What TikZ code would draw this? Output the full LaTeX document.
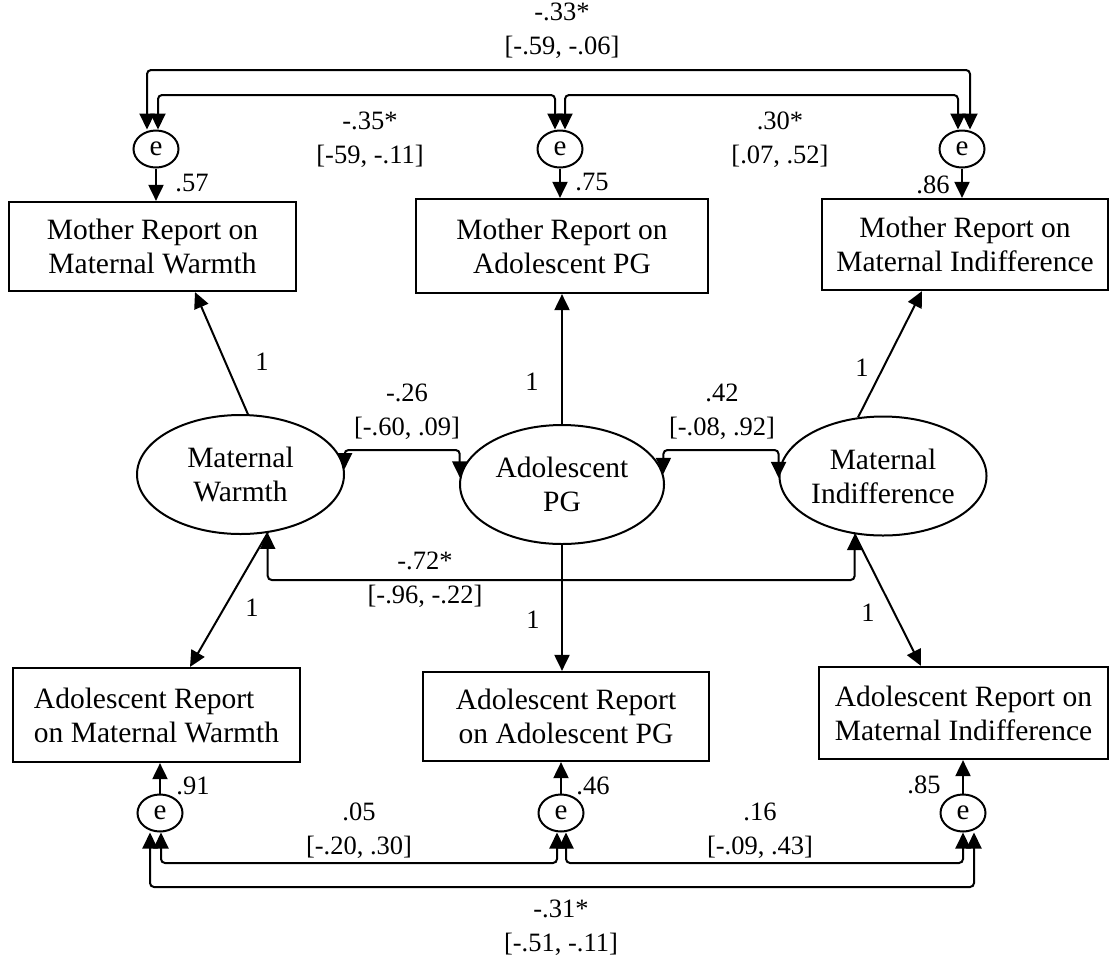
\documentclass[tikz,border=0pt]{standalone}
\usepackage{fontspec}
\setmainfont{Liberation Serif}
\usetikzlibrary{arrows.meta,shapes.geometric}

\newcommand\boxfont{\fontsize{29.5}{34}\selectfont}
\newcommand\labfont{\fontsize{26.5}{34}\selectfont}

\begin{document}
\begin{tikzpicture}[x=1pt,y=-1pt,
  obs/.style={draw,line width=2.2pt,inner sep=0pt,align=center,font=\boxfont},
  lat/.style={ellipse,draw,line width=2pt,inner sep=0pt,minimum width=207pt,
              minimum height=119pt,align=center,font=\boxfont},
  err/.style={ellipse,draw,line width=2pt,inner sep=0pt,minimum width=45pt,
              minimum height=37pt,font=\fontsize{29}{30}\selectfont},
  lab/.style={inner sep=0pt,align=center,font=\labfont},
  arr/.style={-{Triangle[length=16pt,width=15pt]},line width=2pt},
  cov/.style={{Triangle[length=16pt,width=15pt]}-{Triangle[length=16pt,width=15pt]},
              line width=2pt,rounded corners=4pt}]

\useasboundingbox (0,0) rectangle (1118,959);

% observed indicators
\node[obs,minimum width=287pt,minimum height=89pt] (T1) at (152.5,246.5) {Mother Report on\\Maternal Warmth};
\node[obs,minimum width=292pt,minimum height=94pt] (T2) at (562,246) {Mother Report on\\Adolescent PG};
\node[obs,minimum width=286pt,minimum height=91pt] (T3) at (965,244.5) {Mother Report on\\Maternal Indifference};
\node[obs,minimum width=287pt,minimum height=94pt,align=left] (B1) at (156.5,715) {Adolescent Report\\on Maternal Warmth};
\node[obs,minimum width=286pt,minimum height=89pt] (B2) at (566,716.5) {Adolescent Report\\on Adolescent PG};
\node[obs,minimum width=289pt,minimum height=92pt,align=left] (B3) at (963.5,713) {Adolescent Report on\\Maternal Indifference};

% latent factors
\node[lat] (MW) at (240.5,474.5) {Maternal\\Warmth};
\node[lat,minimum width=204pt] (APG) at (562,484.5) {Adolescent\\PG};
\node[lat] (MI) at (883,476) {Maternal\\Indifference};

% residuals
\node[err] (eT1) at (156,149) {e};
\node[err] (eT2) at (560,149) {e};
\node[err] (eT3) at (962,149) {e};
\node[err] (eB1) at (160,813) {e};
\node[err] (eB2) at (561,813) {e};
\node[err] (eB3) at (963,813) {e};

% residual paths
\draw[arr] (eT1) -- (eT1 |- T1.north);
\draw[arr] (eT2) -- (eT2 |- T2.north);
\draw[arr] (eT3) -- (eT3 |- T3.north);
\draw[arr] (eB1) -- (eB1 |- B1.south);
\draw[arr] (eB2) -- (eB2 |- B2.south);
\draw[arr] (eB3) -- (eB3 |- B3.south);
\node[lab] (r57) at (192,183) {.57};
\node[lab] (r75) at (592,182) {.75};
\node[lab] (r86) at (933,185) {.86};
\node[lab] (r91) at (193,786) {.91};
\node[lab] (r46) at (593,786) {.46};
\node[lab] (r85) at (924,785) {.85};

% loadings
\draw[arr] (MW.83) -- (195,0 |- T1.south);
\draw[arr] (APG.north) -- (APG.north |- T2.south);
\draw[arr] (MI.113) -- (922,0 |- T3.south);
\draw[arr] (MW.-65) -- (190,0 |- B1.north);
\draw[arr] (APG.south) -- (APG.south |- B2.north);
\draw[arr] (MI.-116) -- (921,0 |- B3.north);
\node[lab] (w1) at (262,362) {1};
\node[lab] (w2) at (532,382) {1};
\node[lab] (w3) at (862,368) {1};
\node[lab] (w4) at (252,608) {1};
\node[lab] (w5) at (533,620) {1};
\node[lab] (w6) at (868,613) {1};

% factor covariances
\coordinate (mwR) at (MW.3);
\coordinate (apL) at (APG.176);
\coordinate (apR) at (APG.6);
\coordinate (miL) at (MI.181);
\coordinate (mwB) at (MW.-65);
\coordinate (miB) at (MI.-116);
\draw[cov] (mwR) -- (mwR |- 0,450) -| (apL);
\draw[cov] (apR) -- (apR |- 0,450) -| (miL);
\draw[cov] (mwB) -- (mwB |- 0,580) -| (miB);
\node[lab] (c26) at (407,412) {-.26\\{[}-.60, .09]};
\node[lab] (c42) at (722,412) {.42\\{[}-.08, .92]};
\node[lab] (c72) at (425,580) {-.72*\\{[}-.96, -.22]};

% residual covariances, mother reports
\coordinate (t1i) at ([xshift=2pt]eT1.north);
\coordinate (t1o) at ([xshift=-9pt]eT1.north);
\coordinate (t2l) at ([xshift=-5pt]eT2.north);
\coordinate (t2r) at ([xshift=5pt]eT2.north);
\coordinate (t3i) at ([xshift=-4pt]eT3.north);
\coordinate (t3o) at ([xshift=8pt]eT3.north);
\draw[cov] (t1i) -- (t1i |- 0,95) -| (t2l);
\draw[cov] (t2r) -- (t2r |- 0,95) -| (t3i);
\draw[cov] (t1o) -- (t1o |- 0,70) -| (t3o);
\node[lab] (c35) at (370,140) {-.35*\\{[}-59, -.11]};
\node[lab] (c30) at (780,140) {.30*\\{[}.07, .52]};
\node[lab] (c33) at (562,31) {-.33*\\{[}-.59, -.06]};

% residual covariances, adolescent reports
\coordinate (b1i) at ([xshift=1pt]eB1.south);
\coordinate (b1o) at ([xshift=-10pt]eB1.south);
\coordinate (b2l) at ([xshift=-4pt]eB2.south);
\coordinate (b2r) at ([xshift=5pt]eB2.south);
\coordinate (b3i) at (eB3.south);
\coordinate (b3o) at ([xshift=11pt]eB3.south);
\draw[cov] (b1i) -- (b1i |- 0,863) -| (b2l);
\draw[cov] (b2r) -- (b2r |- 0,863) -| (b3i);
\draw[cov] (b1o) -- (b1o |- 0,887) -| (b3o);
\node[lab] (c05) at (359,831) {.05\\{[}-.20, .30]};
\node[lab] (c16) at (760,831) {.16\\{[}-.09, .43]};
\node[lab] (c31) at (561,928) {-.31*\\{[}-.51, -.11]};
\end{tikzpicture}
\end{document}
